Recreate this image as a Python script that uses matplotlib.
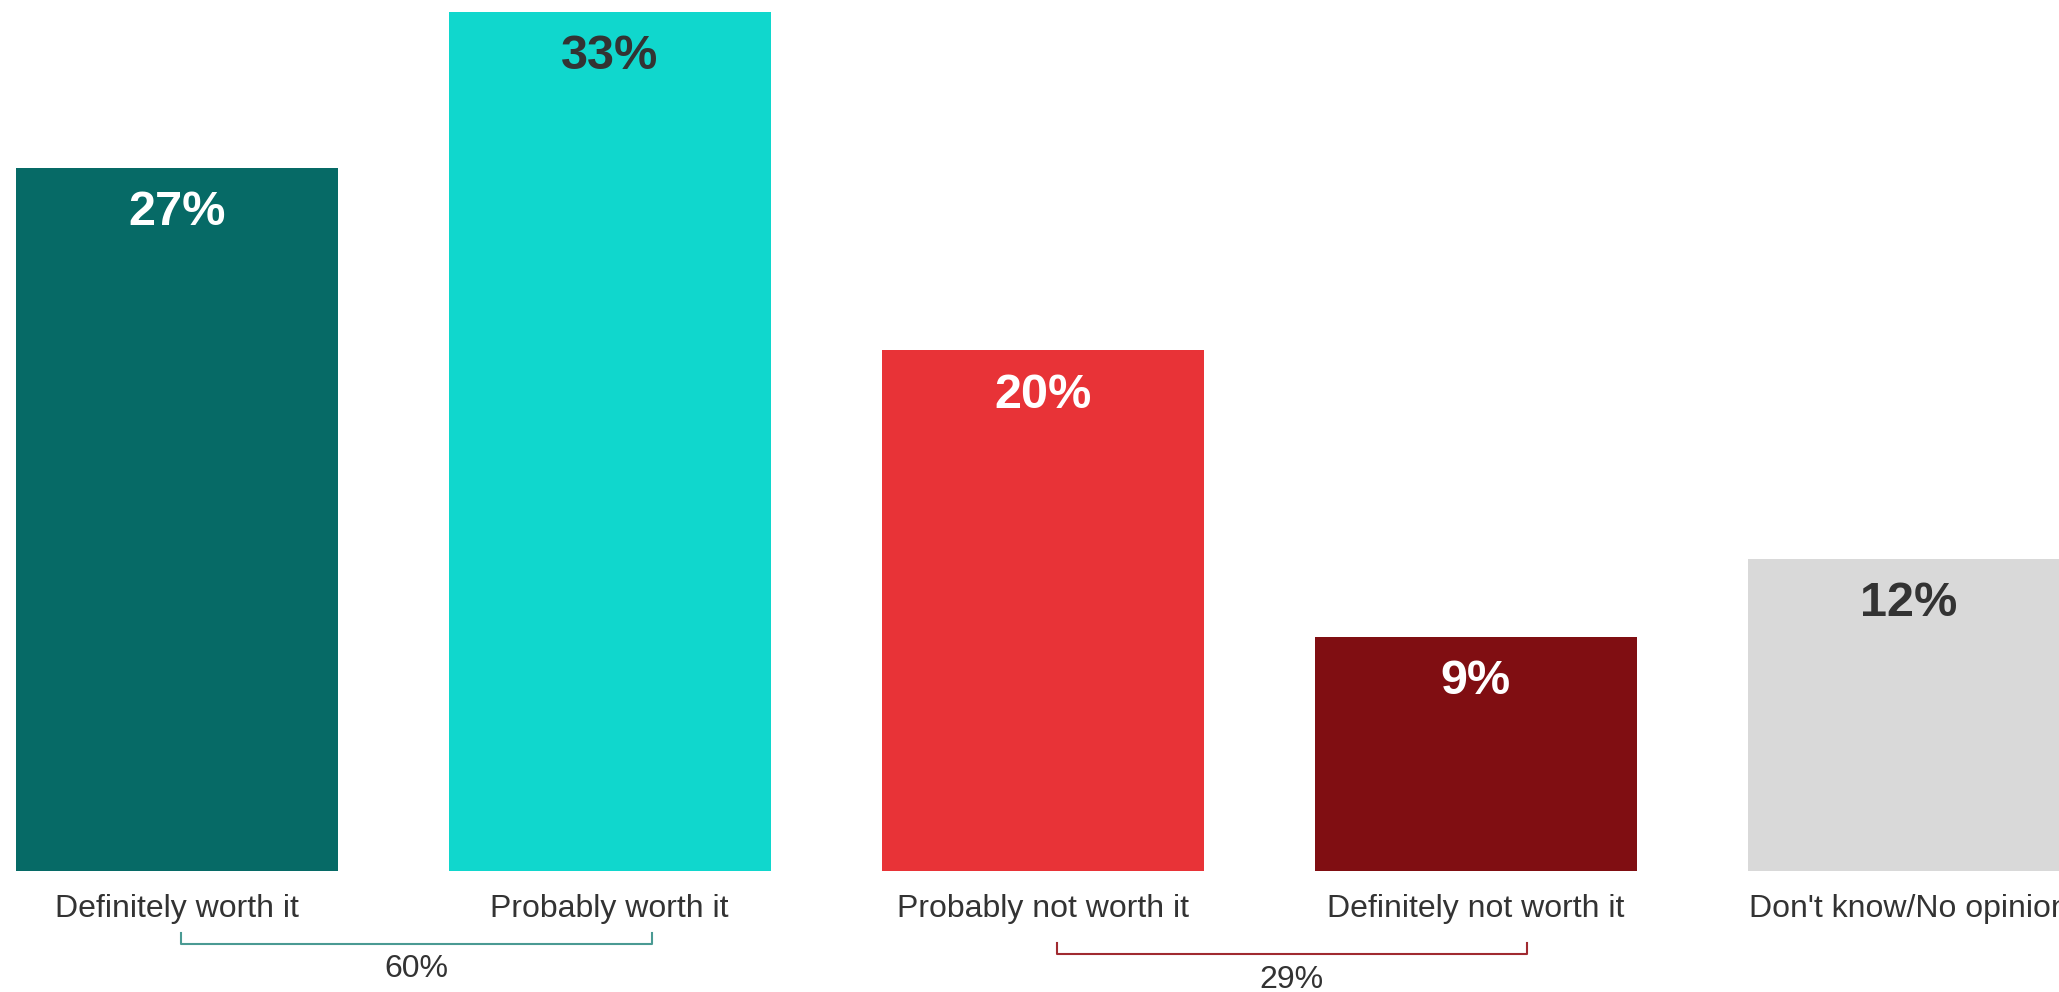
import matplotlib
matplotlib.use("Agg")
import matplotlib.pyplot as plt

# data
categories = ["Definitely worth it", "Probably worth it", "Probably not worth it",
              "Definitely not worth it", "Don't know/No opinion"]
values = [27, 33, 20, 9, 12]
bar_colors = ["#066a66", "#10d7cd", "#e83337", "#800e12", "#d9d9d9"]
label_colors = ["white", "#333333", "white", "white", "#333333"]

# net groups: (first index, last index, label, colour)
nets = [(0, 1, "60%", "#4a9a93"), (2, 3, "29%", "#a02a30")]

plt.rcParams['font.family'] = ['Liberation Sans', 'DejaVu Sans']

fig = plt.figure(figsize=(20.59, 9.92), dpi=100)
ax = fig.add_axes([0, 0, 1, 1])
ax.set_xlim(-0.408, 4.347)
ax.set_ylim(-4.65, 33.46)
ax.axis("off")

x = list(range(len(categories)))
ax.bar(x, values, width=0.744, color=bar_colors)

for i, v in enumerate(values):
    ax.text(i, v - 1.72, f"{v}%", ha="center", va="center", fontsize=35,
            fontweight="bold", color=label_colors[i])
    ax.text(i, -1.46, categories[i], ha="center", va="center", fontsize=23,
            color="#333333")

# brackets under the label pairs: (left pad, right pad, tick top, line, text y)
bracket_geo = [(0.009, 0.097, -2.38, -2.80, -3.75),
               (0.032, 0.118, -2.77, -3.19, -4.17)]
for (a, b, txt, col), (lp, rp, ytop, yline, ytxt) in zip(nets, bracket_geo):
    x0 = a + lp
    x1 = b + rp
    ax.plot([x0, x0, x1, x1], [ytop, yline, yline, ytop], color=col,
            linewidth=1.5, clip_on=False)
    ax.text((x0 + x1) / 2, ytxt, txt, ha="center", va="center", fontsize=23,
            color="#333333")

fig.savefig("out.png", dpi=100)
